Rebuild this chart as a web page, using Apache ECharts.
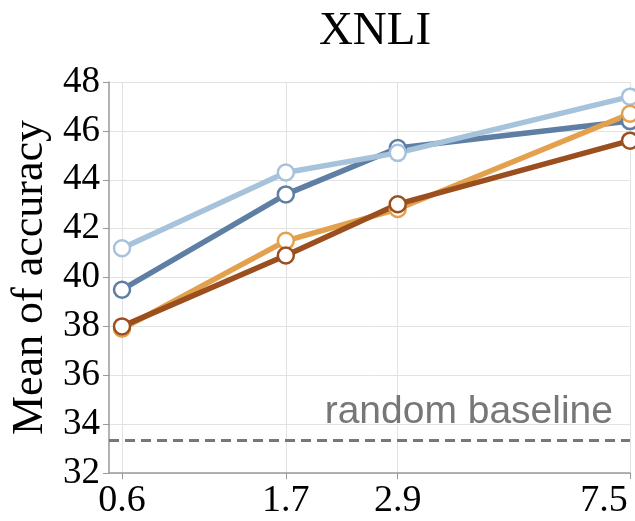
<!DOCTYPE html>
<html>
<head>
<meta charset="utf-8">
<title>XNLI</title>
<script src="https://cdn.jsdelivr.net/npm/echarts@6/dist/echarts.min.js"></script>
<style>
  html, body { margin: 0; padding: 0; background: #fff; }
  #chart { width: 635px; height: 521px; }
</style>
</head>
<body>
<div id="chart"></div>
<script>
// model size (billions of params) on the x axis
const sizes = [0.6, 1.7, 2.9, 7.5]
const yTicks = [32, 34, 36, 38, 40, 42, 44, 46, 48]

const darkBlue = [39.5, 43.4, 45.3, 46.4]
const lightBlue = [41.2, 44.3, 45.1, 47.4]
const orange = [37.9, 41.5, 42.8, 46.7]
const brown = [38.0, 40.9, 43.0, 45.6]

const randomBaseline = 33.33

// the x scale is compressed like a shifted log
const shift = 0.85
function tx (v) { return Math.log10(v + shift) }
function untx (v) { return Math.pow(10, v) - shift }

function toPoints (vals) {
  return vals.map((v, i) => [tx(sizes[i]), v])
}

const serif = '"Liberation Serif", "Times New Roman", serif'
const sans = '"Liberation Sans", Arial, sans-serif'

function lineSeries (name, color, vals) {
  return {
    name: name,
    type: 'line',
    data: toPoints(vals),
    symbol: 'circle',
    symbolSize: 16,
    lineStyle: { color: color, width: 5.5 },
    itemStyle: { color: '#fff', borderColor: color, borderWidth: 2.5 },
    emphasis: { disabled: true }
  }
}

const chart = echarts.init(document.getElementById('chart'))
const tickVals = sizes.map(tx)
const xMax = tx(sizes[sizes.length - 1])

const series = [
  lineSeries('dark blue', '#5e7fa3', darkBlue),
  lineSeries('light blue', '#a7c3dc', lightBlue),
  lineSeries('orange', '#e3a14e', orange),
  lineSeries('brown', '#9b4f1f', brown)
]
series[0].markLine = {
  silent: true,
  symbol: 'none',
  lineStyle: { color: '#777', type: [10, 6], width: 3 },
  label: {
    show: true,
    position: 'insideEndTop',
    formatter: 'random baseline',
    color: '#777',
    fontFamily: sans,
    fontSize: 39,
    distance: [17, 9]
  },
  data: [{ yAxis: randomBaseline }]
}

chart.setOption({
  animation: false,
  title: {
    text: 'XNLI',
    left: 370,
    textAlign: 'center',
    top: 3,
    textStyle: { fontFamily: serif, fontSize: 47, fontWeight: 'normal', color: '#000' }
  },
  grid: { left: 109, right: 5, top: 82, bottom: 48, containLabel: false },
  xAxis: {
    type: 'value',
    min: 0.1419,
    max: xMax,
    axisLine: { show: true, onZero: false, lineStyle: { color: '#999', width: 1.5 } },
    axisTick: { show: true, length: 6, customValues: tickVals, lineStyle: { color: '#999' } },
    splitLine: { show: true, lineStyle: { color: '#e2e2e2', width: 1 } },
    axisLabel: {
      customValues: tickVals,
      margin: 9,
      color: '#000',
      fontFamily: serif,
      fontSize: 38,
      formatter: function (v) {
        const s = untx(v).toFixed(1)
        return Math.abs(v - xMax) < 1e-6 ? '{last|' + s + '}' : s
      },
      rich: {
        last: { fontFamily: serif, fontSize: 38, color: '#000', padding: [0, 52, 0, 0] }
      }
    }
  },
  yAxis: {
    type: 'value',
    min: 32,
    max: 48,
    interval: 2,
    name: 'Mean of accuracy',
    nameLocation: 'middle',
    nameGap: 56,
    nameTextStyle: { fontFamily: serif, fontSize: 44, color: '#000' },
    axisLine: { show: true, lineStyle: { color: '#999', width: 1.5 } },
    axisTick: { show: true, length: 6, lineStyle: { color: '#999' } },
    splitLine: { show: true, lineStyle: { color: '#e2e2e2', width: 1 } },
    axisLabel: {
      margin: 9,
      color: '#000',
      fontFamily: serif,
      fontSize: 37,
      formatter: function (v) { return yTicks.indexOf(v) >= 0 ? String(v) : '' }
    }
  },
  series: series
})

window.addEventListener('resize', () => {
  chart.resize()
})
</script>
</body>
</html>
